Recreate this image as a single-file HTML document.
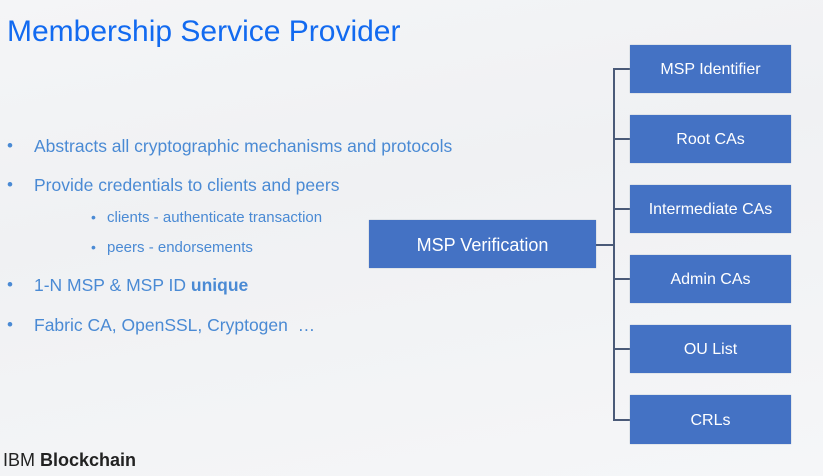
<!DOCTYPE html>
<html><head><meta charset="utf-8"><style>
body{margin:0;width:823px;height:476px;overflow:hidden;background:linear-gradient(170deg,#f4f5f7 0%,#f0f1f3 40%,#f5f6f8 100%);font-family:"Liberation Sans",sans-serif;position:relative}
.t{position:absolute;left:7px;top:15px;font-size:30px;color:#126af0;white-space:nowrap}
.b{position:absolute;left:34px;font-size:17.5px;color:#4a8ad4;white-space:nowrap}
.b::before{content:"•";position:absolute;left:-27px;font-size:17px;top:0px}
.s{position:absolute;left:107px;font-size:15px;color:#4a8ad4;white-space:nowrap}
.s::before{content:"•";position:absolute;left:-16px;font-size:14px;top:0px}
.box{position:absolute;box-sizing:border-box;padding-top:2px;background:#4472c4;color:#fff;display:flex;align-items:center;justify-content:center;font-size:16px;box-shadow:0 0 1px #9ab}
.r{left:630px;width:161px;height:48px}
.ln{position:absolute;background:#4a5a78}
.f{position:absolute;left:3px;top:450px;font-size:18px;color:#222}
</style></head><body>
<div class="t">Membership Service Provider</div>
<div class="b" style="top:136px">Abstracts all cryptographic mechanisms and protocols</div>
<div class="b" style="top:175px">Provide credentials to clients and peers</div>
<div class="s" style="top:209px">clients - authenticate transaction</div>
<div class="s" style="top:239px">peers - endorsements</div>
<div class="b" style="top:275px">1-N MSP &amp; MSP ID <b>unique</b></div>
<div class="b" style="top:315px">Fabric CA, OpenSSL, Cryptogen &nbsp;…</div>
<div class="box" style="left:369px;top:220px;width:227px;height:48px;font-size:18px">MSP Verification</div>
<div class="ln" style="left:596px;top:244px;width:17px;height:2px"></div>
<div class="ln" style="left:613px;top:68px;width:2px;height:353px"></div>
<div class="ln" style="left:613px;top:68px;width:17px;height:2px"></div>
<div class="ln" style="left:613px;top:138px;width:17px;height:2px"></div>
<div class="ln" style="left:613px;top:208px;width:17px;height:2px"></div>
<div class="ln" style="left:613px;top:278px;width:17px;height:2px"></div>
<div class="ln" style="left:613px;top:348px;width:17px;height:2px"></div>
<div class="ln" style="left:613px;top:419px;width:17px;height:2px"></div>
<div class="box r" style="top:45px">MSP Identifier</div>
<div class="box r" style="top:115px">Root CAs</div>
<div class="box r" style="top:185px">Intermediate CAs</div>
<div class="box r" style="top:255px">Admin CAs</div>
<div class="box r" style="top:325px">OU List</div>
<div class="box r" style="top:395px;height:49px">CRLs</div>
<div class="f">IBM <b>Blockchain</b></div>
</body></html>
